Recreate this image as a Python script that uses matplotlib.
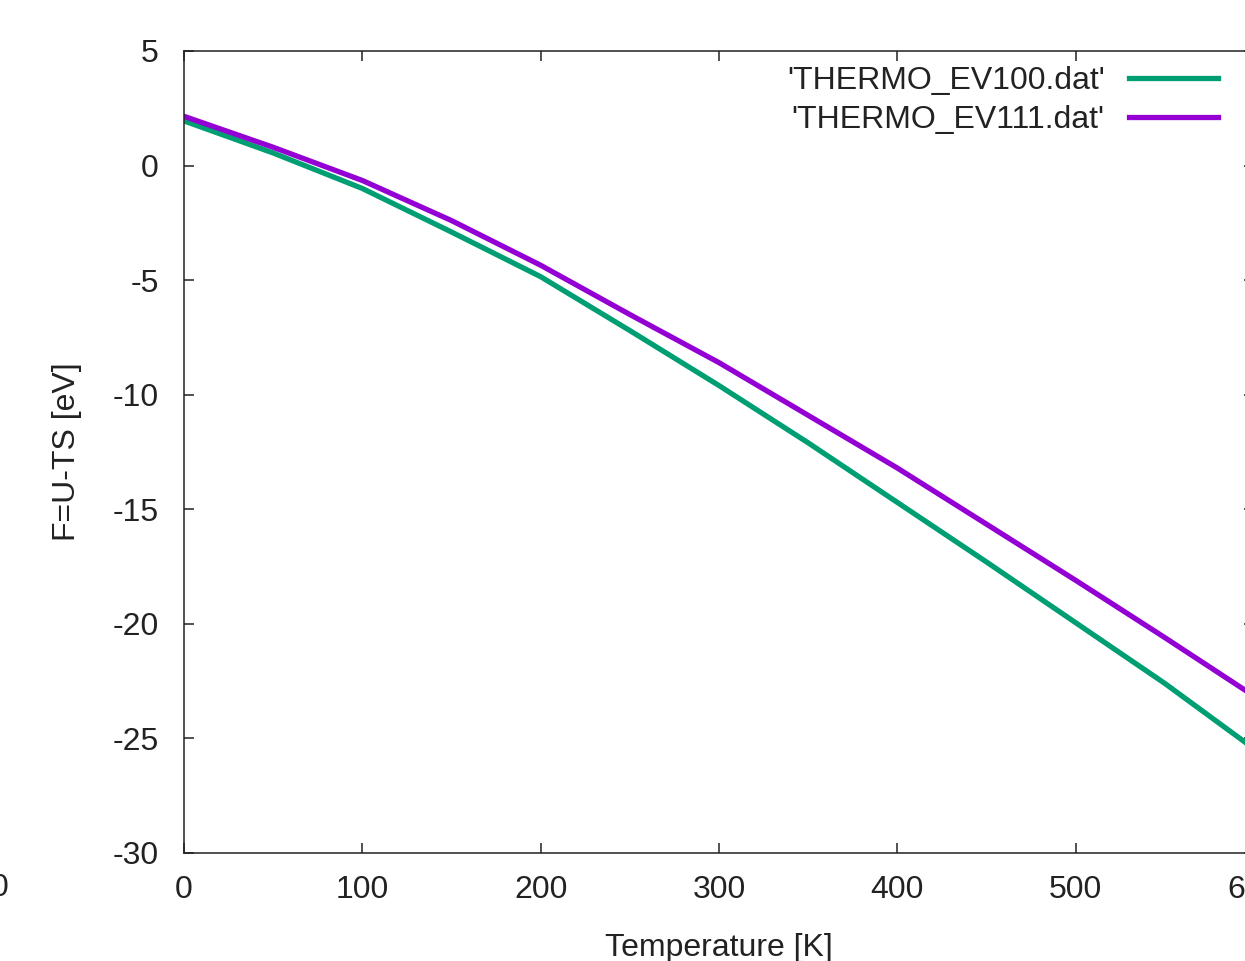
# Free energy vs temperature, gnuplot-like look

import matplotlib
matplotlib.use("Agg")
import matplotlib.pyplot as plt

# data
temperature = [0, 50, 100, 150, 200, 250, 300, 350, 400, 450, 500, 550, 600]
f_ev100 = [1.95, 0.55, -1.0, -2.9, -4.85, -7.2, -9.6, -12.1, -14.7, -17.3, -19.95, -22.6, -25.45]
f_ev111 = [2.15, 0.8, -0.65, -2.4, -4.35, -6.5, -8.6, -10.9, -13.2, -15.65, -18.1, -20.6, -23.15]

labels = ["'THERMO_EV100.dat'", "'THERMO_EV111.dat'"]
xticks = [0, 100, 200, 300, 400, 500, 600]
yticks = [5, 0, -5, -10, -15, -20, -25, -30]

plt.rcParams['font.family'] = ['Liberation Sans', 'DejaVu Sans']
fs = 23

W, H = 1245, 961
fig = plt.figure(figsize=(W / 100, H / 100), dpi=100)

# axes box runs past the right edge (picture is cropped)
left, right, top, bottom = 184, 1254, 51, 853
ax = fig.add_axes([left / W, 1 - bottom / H, (right - left) / W, (bottom - top) / H])

ax.plot(temperature, f_ev100, color='#009e73', lw=3.8, label=labels[0])
ax.plot(temperature, f_ev111, color='#9400d3', lw=3.8, label=labels[1])

ax.set_xlim(0, 600)
ax.set_ylim(-30, 5)
ax.set_xticks(xticks)
ax.set_yticks(yticks)
ax.set_yticklabels([str(v) for v in yticks])

ax.tick_params(direction='in', length=7, width=1.1, top=True, right=True,
               labelsize=fs, colors='#222222')
ax.tick_params(axis='x', pad=16)
ax.tick_params(axis='y', pad=18)
for s in ax.spines.values():
    s.set_linewidth(1.1)
    s.set_color('#222222')

ax.set_xlabel('Temperature [K]', fontsize=fs, color='#222222', labelpad=20)
ax.set_ylabel('F=U-TS [eV]', fontsize=fs, color='#222222', labelpad=22)

leg = ax.legend(loc='upper right', bbox_to_anchor=(1218 / W, 1 - 66 / H),
                bbox_transform=fig.transFigure, frameon=False, markerfirst=False,
                fontsize=fs, handlelength=2.8, handletextpad=0.75,
                labelspacing=0.28, borderpad=0, borderaxespad=0)
for t in leg.get_texts():
    t.set_color('#222222')

# leftover tick label from a neighbouring plot, cut off at the left edge
fig.text(8 / W, 1 - 888 / H, '0', ha='right', va='center', fontsize=fs, color='#222222')

fig.savefig('out.png', dpi=100)
